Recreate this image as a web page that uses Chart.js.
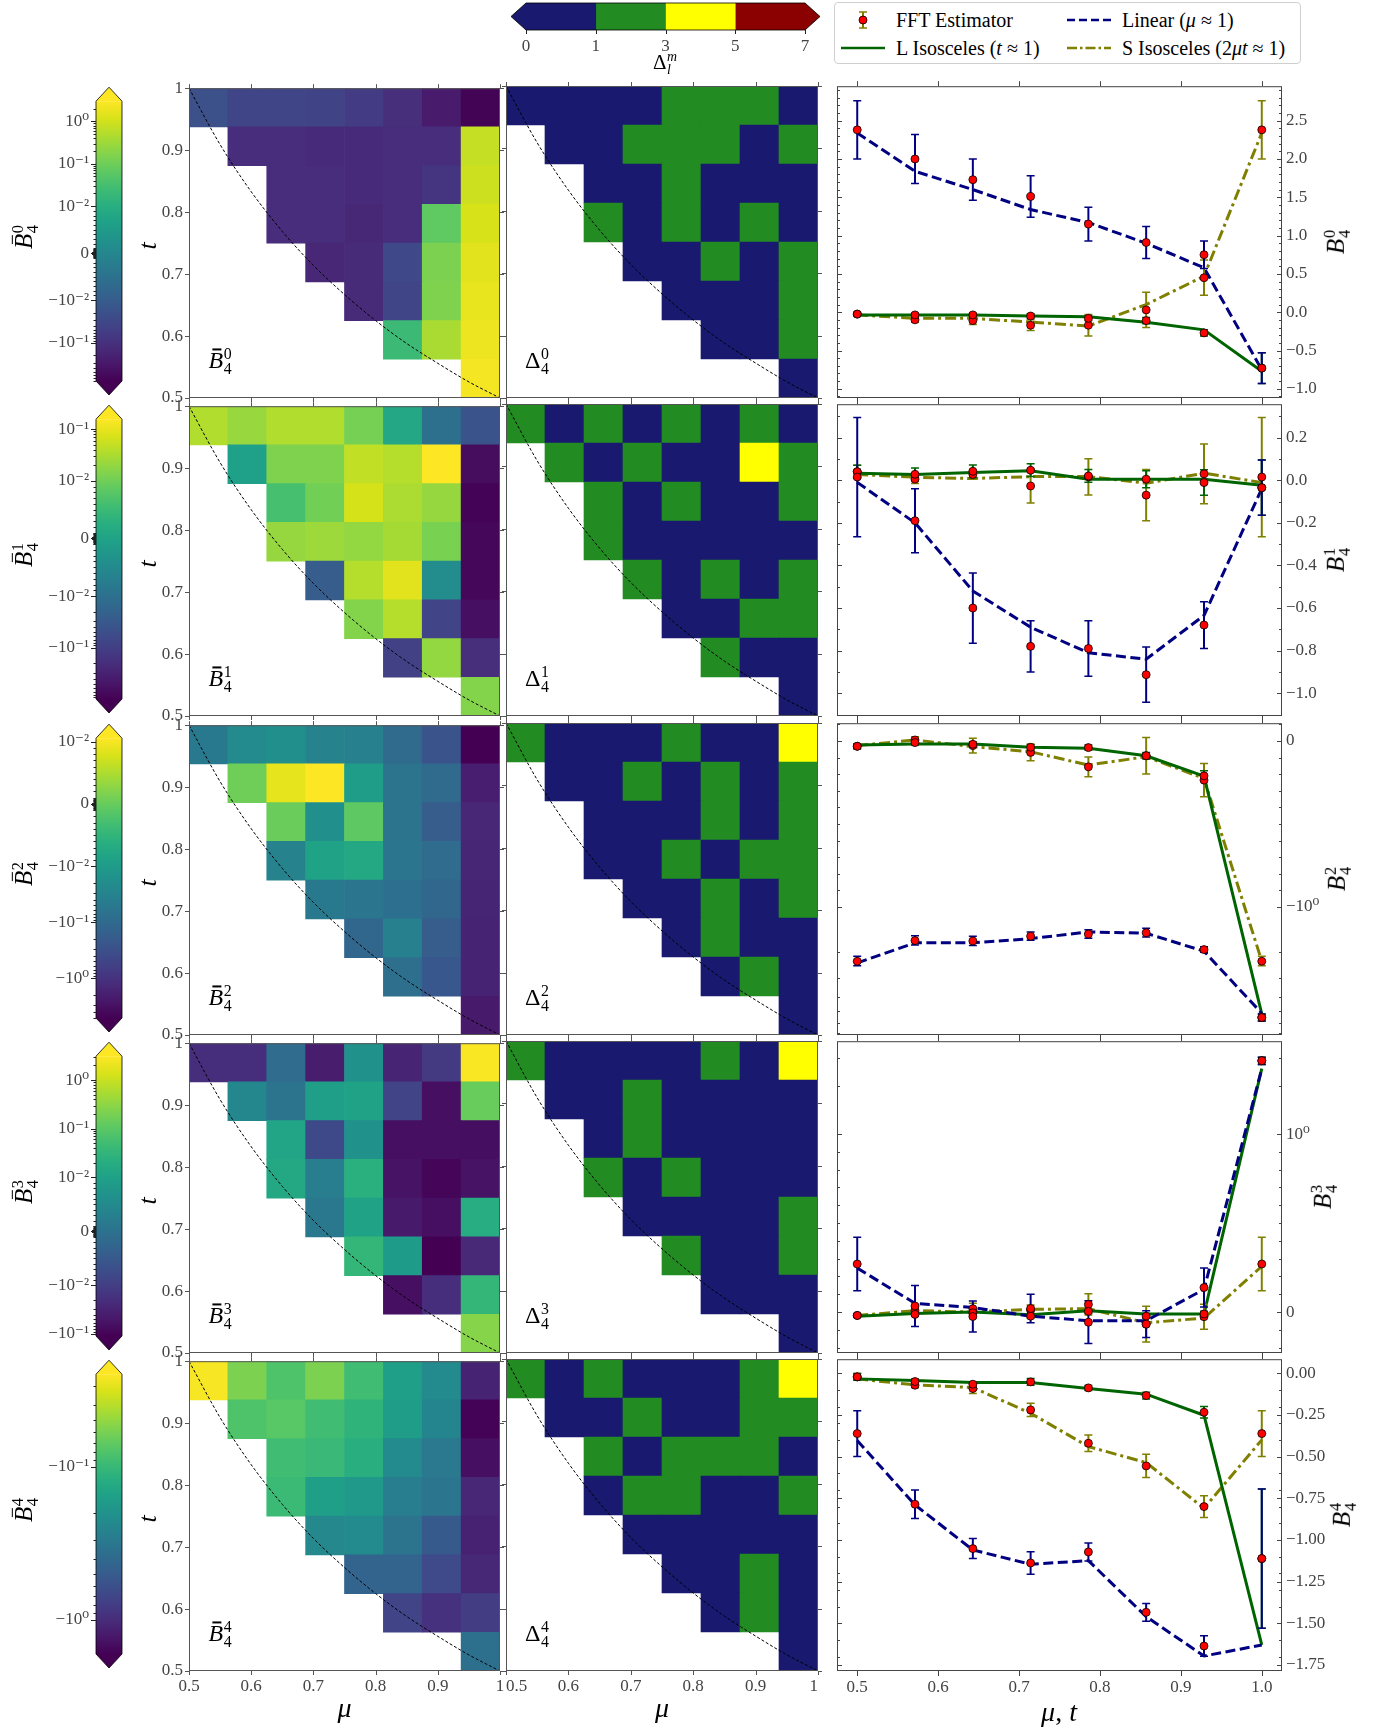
<!DOCTYPE html>
<html>
<head>
<meta charset="utf-8">
<script src="https://cdn.jsdelivr.net/npm/chart.js@4.4.1/dist/chart.umd.min.js"></script>
<style>
  html, body { margin: 0; padding: 0; background: #fff; }
  body { width: 1399px; height: 1733px; position: relative; overflow: hidden; font-family: 'Liberation Serif', 'DejaVu Serif', serif; }
  canvas { position: absolute; }
  .lab { position: absolute; color: #000; white-space: nowrap; line-height: 1; font-family: 'Liberation Serif', 'DejaVu Serif', serif; }
  .it { font-style: italic; }
  .bar { position: relative; display: inline-block; }
  .bar::after { content: ""; position: absolute; left: 30%; width: 60%; top: 0.03em; height: 1.5px; background: #000; }
  .scr { display: inline-flex; flex-direction: column; font-size: 0.66em; line-height: 0.92; vertical-align: 0.55em; margin-left: 0.04em; font-style: normal; }
  #legend { position: absolute; left: 834px; top: 2px; width: 467px; height: 62px; box-sizing: border-box; border: 1px solid #cfcfcf; border-radius: 4px; background: #fff; }
  .li { position: absolute; font-size: 20px; line-height: 1; white-space: nowrap; }
  .ls { position: absolute; }
</style>
</head>
<body>
<script>
// ==========================================
// ДАНІ
// ==========================================
const xPts = [0.5, 0.5714, 0.6429, 0.7143, 0.7857, 0.8571, 0.9286, 1.0];
const cellEdges = [0.5, 0.5625, 0.625, 0.6875, 0.75, 0.8125, 0.875, 0.9375, 1.0];
const boundaryMu = [0.5, 0.55, 0.6, 0.65, 0.7, 0.75, 0.8, 0.85, 0.9, 0.95, 1.0];
const boundaryT = [1.0, 0.909, 0.833, 0.769, 0.714, 0.667, 0.625, 0.588, 0.556, 0.526, 0.5];

const hmTicks = [0.5, 0.6, 0.7, 0.8, 0.9, 1.0];
const hmTickLabels = ["0.5", "0.6", "0.7", "0.8", "0.9", "1"];
const lineXLabels = ["0.5", "0.6", "0.7", "0.8", "0.9", "1.0"];

const deltaBounds = [0, 1, 3, 5, 7];
const deltaColors = ["#191970", "#228b22", "#ffff00", "#8b0000"];

// B̄_4^m, рядки від t≈1 (верх) до t≈0.5 (низ), стовпці μ 0.5 → 1
const B = [
  [
    [-0.02, -0.035, -0.035, -0.04, -0.06, -0.11, -0.27, -0.73],
    [null, -0.12, -0.12, -0.13, -0.13, -0.12, -0.12, 0.75],
    [null, null, -0.12, -0.12, -0.13, -0.12, -0.08, 0.91],
    [null, null, -0.12, -0.12, -0.15, -0.12, 0.068, 1.15],
    [null, null, null, -0.16, -0.14, -0.03, 0.14, 1.51],
    [null, null, null, null, -0.14, -0.035, 0.15, 1.73],
    [null, null, null, null, null, 0.023, 0.42, 2.0],
    [null, null, null, null, null, null, null, 2.38]
  ],
  [
    [0.035, 0.022, 0.035, 0.035, 0.011, 0.001, -0.01, -0.04],
    [null, -0.0006, 0.0135, 0.0135, 0.047, 0.037, 0.16, -0.68],
    [null, null, 0.0062, 0.0104, 0.068, 0.032, 0.021, -0.91],
    [null, null, 0.021, 0.024, 0.02, 0.028, 0.012, -0.79],
    [null, null, null, -0.026, 0.037, 0.087, -0.0045, -0.78],
    [null, null, null, null, 0.015, 0.037, -0.081, -0.6],
    [null, null, null, null, null, -0.091, 0.02, -0.19],
    [null, null, null, null, null, null, null, 0.015]
  ],
  [
    [-0.05, -0.023, -0.017, -0.032, -0.036, -0.1, -0.26, -5.5],
    [null, 0.0006, 0.0087, 0.0115, -0.0096, -0.065, -0.1, -1.93],
    [null, null, 0.0002, -0.017, -0.0007, -0.065, -0.18, -1.49],
    [null, null, -0.032, -0.0087, -0.0075, -0.058, -0.092, -1.52],
    [null, null, null, -0.05, -0.058, -0.079, -0.12, -1.57],
    [null, null, null, null, -0.12, -0.036, -0.18, -1.69],
    [null, null, null, null, null, -0.08, -0.23, -1.68],
    [null, null, null, null, null, null, null, -2.31]
  ],
  [
    [-0.02, -0.02, -0.0013, -0.039, 0.0065, -0.029, -0.012, 2.87],
    [null, 0.0044, 0.0003, 0.0096, 0.0103, -0.009, -0.066, 0.138],
    [null, null, 0.012, -0.008, 0.0065, -0.066, -0.066, -0.068],
    [null, null, 0.0155, 0.0023, 0.023, -0.058, -0.095, -0.057],
    [null, null, null, 0.0013, 0.0103, -0.045, -0.066, 0.02],
    [null, null, null, null, 0.034, 0.009, -0.11, -0.025],
    [null, null, null, null, null, -0.066, -0.02, 0.034],
    [null, null, null, null, null, null, null, 0.27]
  ],
  [
    [-0.026, -0.058, -0.081, -0.058, -0.092, -0.16, -0.23, -1.11],
    [null, -0.081, -0.075, -0.092, -0.11, -0.165, -0.25, -1.64],
    [null, null, -0.092, -0.1, -0.12, -0.23, -0.31, -1.43],
    [null, null, -0.097, -0.16, -0.18, -0.286, -0.33, -1.07],
    [null, null, null, -0.24, -0.23, -0.34, -0.52, -1.14],
    [null, null, null, null, -0.44, -0.44, -0.66, -1.05],
    [null, null, null, null, null, -0.72, -0.93, -0.79],
    [null, null, null, null, null, null, null, -0.36]
  ]
];

// Δ_4^m
const D = [
  [
    [0.5, 0.5, 0.5, 0.5, 2, 2, 2, 0.5],
    [null, 0.5, 0.5, 2, 2, 2, 0.5, 2],
    [null, null, 0.5, 0.5, 2, 0.5, 0.5, 0.5],
    [null, null, 2, 0.5, 2, 0.5, 2, 0.5],
    [null, null, null, 0.5, 0.5, 2, 0.5, 2],
    [null, null, null, null, 0.5, 0.5, 0.5, 2],
    [null, null, null, null, null, 0.5, 0.5, 2],
    [null, null, null, null, null, null, null, 0.5]
  ],
  [
    [2, 0.5, 2, 0.5, 2, 0.5, 2, 0.5],
    [null, 2, 0.5, 2, 0.5, 0.5, 4, 2],
    [null, null, 2, 0.5, 2, 0.5, 0.5, 2],
    [null, null, 2, 0.5, 0.5, 0.5, 0.5, 0.5],
    [null, null, null, 2, 0.5, 2, 0.5, 2],
    [null, null, null, null, 0.5, 0.5, 2, 2],
    [null, null, null, null, null, 2, 0.5, 0.5],
    [null, null, null, null, null, null, null, 0.5]
  ],
  [
    [2, 0.5, 0.5, 0.5, 2, 0.5, 0.5, 4],
    [null, 0.5, 0.5, 2, 0.5, 2, 0.5, 2],
    [null, null, 0.5, 0.5, 0.5, 2, 0.5, 2],
    [null, null, 0.5, 0.5, 2, 0.5, 2, 2],
    [null, null, null, 0.5, 0.5, 2, 0.5, 2],
    [null, null, null, null, 0.5, 2, 0.5, 0.5],
    [null, null, null, null, null, 0.5, 2, 0.5],
    [null, null, null, null, null, null, null, 0.5]
  ],
  [
    [2, 0.5, 0.5, 0.5, 0.5, 2, 0.5, 4],
    [null, 0.5, 0.5, 2, 0.5, 0.5, 0.5, 0.5],
    [null, null, 0.5, 2, 0.5, 0.5, 0.5, 0.5],
    [null, null, 2, 0.5, 2, 0.5, 0.5, 0.5],
    [null, null, null, 0.5, 0.5, 0.5, 0.5, 2],
    [null, null, null, null, 2, 0.5, 0.5, 2],
    [null, null, null, null, null, 0.5, 0.5, 0.5],
    [null, null, null, null, null, null, null, 0.5]
  ],
  [
    [2, 0.5, 2, 0.5, 0.5, 0.5, 2, 4],
    [null, 0.5, 0.5, 2, 0.5, 0.5, 2, 2],
    [null, null, 2, 0.5, 2, 2, 2, 0.5],
    [null, null, 0.5, 2, 2, 0.5, 0.5, 2],
    [null, null, null, 0.5, 0.5, 0.5, 0.5, 0.5],
    [null, null, null, null, 0.5, 0.5, 2, 0.5],
    [null, null, null, null, null, 0.5, 2, 0.5],
    [null, null, null, null, null, null, null, 0.5]
  ]
];

// шкали кольорів B̄ (symlog, linthresh 0.01)
const cbMin = [-0.81, -0.97, -5.1, -0.11, -1.67];
const cbMax = [3.0, 0.155, 0.0115, 3.1, -0.025];
const cbTicks = [
  [-0.1, -0.01, 0, 0.01, 0.1, 1],
  [-0.1, -0.01, 0, 0.01, 0.1],
  [-1, -0.1, -0.01, 0, 0.01],
  [-0.1, -0.01, 0, 0.01, 0.1, 1],
  [-1, -0.1]
];
const cbTickLabels = [
  ["−10⁻¹", "−10⁻²", "0", "10⁻²", "10⁻¹", "10⁰"],
  ["−10⁻¹", "−10⁻²", "0", "10⁻²", "10⁻¹"],
  ["−10⁰", "−10⁻¹", "−10⁻²", "0", "10⁻²"],
  ["−10⁻¹", "−10⁻²", "0", "10⁻²", "10⁻¹", "10⁰"],
  ["−10⁰", "−10⁻¹"]
];

// лінійні графіки B_4^m
const linModel = [
  [2.34, 1.84, 1.60, 1.34, 1.17, 0.90, 0.58, -0.75],
  [-0.01, -0.2, -0.52, -0.69, -0.81, -0.84, -0.635, -0.04],
  [-2.37, -1.74, -1.74, -1.63, -1.47, -1.5, -1.98, -5.15],
  [0.247, 0.049, 0.026, -0.023, -0.049, -0.049, 0.128, 2.56],
  [-0.404, -0.79, -1.06, -1.146, -1.124, -1.46, -1.696, -1.63]
];
const lModel = [
  [-0.035, -0.035, -0.035, -0.05, -0.06, -0.13, -0.23, -0.77],
  [0.033, 0.027, 0.036, 0.045, 0.005, 0.005, 0.005, -0.024],
  [-0.024, -0.018, -0.018, -0.038, -0.044, -0.089, -0.212, -5.2],
  [-0.023, -0.008, 0.0, -0.015, 0.008, -0.011, -0.011, 2.56],
  [-0.034, -0.044, -0.056, -0.056, -0.092, -0.126, -0.252, -1.63]
];
const sModel = [
  [-0.035, -0.08, -0.08, -0.13, -0.18, 0.10, 0.47, 2.34],
  [0.027, 0.014, 0.008, 0.017, 0.017, -0.014, 0.033, -0.011],
  [-0.028, 0.006, -0.034, -0.065, -0.145, -0.095, -0.226, -2.31],
  [-0.019, 0.008, 0.0, 0.015, 0.019, -0.06, -0.034, 0.257],
  [-0.034, -0.07, -0.086, -0.24, -0.44, -0.536, -0.81, -0.40]
];
const linFFT = [
  [2.38, 2.0, 1.73, 1.51, 1.15, 0.91, 0.75, -0.73],
  [0.015, -0.19, -0.60, -0.78, -0.79, -0.913, -0.68, -0.035],
  [-2.31, -1.68, -1.69, -1.57, -1.52, -1.49, -1.93, -5.5],
  [0.27, 0.034, -0.025, 0.02, -0.057, -0.068, 0.138, 2.87],
  [-0.362, -0.786, -1.052, -1.138, -1.072, -1.434, -1.636, -1.112]
];
const linErr = [
  [0.38, 0.32, 0.27, 0.27, 0.22, 0.21, 0.18, 0.2],
  [0.28, 0.15, 0.165, 0.12, 0.13, 0.13, 0.11, 0.13],
  [0.17, 0.12, 0.12, 0.1, 0.1, 0.1, 0.08, 0.3],
  [0.15, 0.115, 0.087, 0.08, 0.12, 0.075, 0.11, 0.15],
  [0.137, 0.086, 0.06, 0.067, 0.054, 0.053, 0.062, 0.418]
];
const lFFT = [
  [-0.025, -0.035, -0.035, -0.05, -0.08, -0.11, -0.27, -0.73],
  [0.04, 0.028, 0.042, 0.047, 0.02, 0.005, -0.011, -0.035],
  [-0.032, -0.01, -0.02, -0.038, -0.04, -0.089, -0.21, -5.5],
  [-0.019, -0.013, -0.004, -0.023, 0.004, -0.023, -0.011, 2.87],
  [-0.022, -0.05, -0.066, -0.052, -0.088, -0.134, -0.234, -1.112]
];
const lErr = [
  [0.02, 0.02, 0.02, 0.03, 0.03, 0.04, 0.04, 0.2],
  [0.03, 0.03, 0.03, 0.03, 0.03, 0.04, 0.06, 0.13],
  [0.015, 0.015, 0.015, 0.015, 0.015, 0.02, 0.03, 0.3],
  [0.01, 0.01, 0.01, 0.01, 0.01, 0.01, 0.015, 0.15],
  [0.02, 0.015, 0.015, 0.02, 0.015, 0.02, 0.035, 0.418]
];
const sFFT = [
  [-0.025, -0.10, -0.11, -0.17, -0.17, 0.03, 0.45, 2.38],
  [0.04, 0.005, 0.027, -0.027, 0.016, -0.07, 0.03, 0.015],
  [-0.032, 0.006, -0.028, -0.069, -0.156, -0.089, -0.236, -2.31],
  [-0.019, 0.008, 0.019, 0.01, 0.043, -0.068, -0.026, 0.27],
  [-0.022, -0.072, -0.092, -0.22, -0.42, -0.556, -0.80, -0.362]
];
const sErr = [
  [0.02, 0.03, 0.05, 0.07, 0.14, 0.23, 0.23, 0.38],
  [0.03, 0.02, 0.02, 0.08, 0.085, 0.12, 0.14, 0.28],
  [0.015, 0.02, 0.045, 0.05, 0.06, 0.11, 0.1, 0.17],
  [0.01, 0.02, 0.03, 0.03, 0.06, 0.1, 0.07, 0.15],
  [0.02, 0.015, 0.03, 0.04, 0.05, 0.07, 0.065, 0.137]
];

const lineYMin = [-1.12, -1.107, -7.2, -0.23, -1.786];
const lineYMax = [2.95, 0.357, 0.107, 3.8, 0.084];
const lineScale = ["linear", "linear", "symlog", "symlog", "linear"];
const lineTicks = [
  [-1, -0.5, 0, 0.5, 1, 1.5, 2, 2.5],
  [-1, -0.8, -0.6, -0.4, -0.2, 0, 0.2],
  [-1, 0],
  [0, 1],
  [-1.75, -1.5, -1.25, -1, -0.75, -0.5, -0.25, 0]
];
const lineTickLabels = [
  ["−1.0", "−0.5", "0.0", "0.5", "1.0", "1.5", "2.0", "2.5"],
  ["−1.0", "−0.8", "−0.6", "−0.4", "−0.2", "0.0", "0.2"],
  ["−10⁰", "0"],
  ["0", "10⁰"],
  ["−1.75", "−1.50", "−1.25", "−1.00", "−0.75", "−0.50", "−0.25", "0.00"]
];

// ==========================================
// КОЛЬОРИ ТА ПЕРЕТВОРЕННЯ
// ==========================================
const NAVY = "#000080", GREEN = "#006400", OLIVE = "#808000";
const VIRIDIS = ["#440154", "#48186a", "#472d7b", "#424086", "#3b528b", "#33638d", "#2c728e", "#26828e",
  "#21918c", "#1fa088", "#28ae80", "#3fbc73", "#5ec962", "#84d44b", "#addc30", "#d8e219", "#fde725"];

function hexRgb(h) {
  return [parseInt(h.slice(1, 3), 16), parseInt(h.slice(3, 5), 16), parseInt(h.slice(5, 7), 16)];
}
function viridis(p) {
  p = Math.min(1, Math.max(0, p));
  const f = p * 16, i = Math.min(15, Math.floor(f)), k = f - i;
  const a = hexRgb(VIRIDIS[i]), b = hexRgb(VIRIDIS[i + 1]);
  return "rgb(" + a.map((c, n) => Math.round(c + (b[n] - c) * k)).join(",") + ")";
}

const LSC = 1 / (1 - 0.1);
function symT(v, lt) {
  const a = Math.abs(v);
  return a <= lt ? v / lt * LSC : Math.sign(v) * (LSC + Math.log10(a / lt));
}
function symTinv(u, lt) {
  const a = Math.abs(u);
  return a <= LSC ? u / LSC * lt : Math.sign(u) * lt * Math.pow(10, a - LSC);
}
function bColor(v, r) {
  const a = symT(cbMin[r], 0.01), b = symT(cbMax[r], 0.01);
  return viridis((symT(v, 0.01) - a) / (b - a));
}
function dColor(v) {
  for (let i = 1; i < deltaBounds.length; i++) if (v < deltaBounds[i]) return deltaColors[i - 1];
  return deltaColors[deltaColors.length - 1];
}

// symlog вісь для Chart.js
class SymLogScale extends Chart.Scale {
  determineDataLimits() {
    this.min = this.options.min;
    this.max = this.options.max;
  }
  buildTicks() { return []; }
  configure() {
    super.configure();
    const lt = this.options.linthresh;
    this._a = symT(this.min, lt);
    this._b = symT(this.max, lt);
  }
  getPixelForValue(v) {
    return this.getPixelForDecimal((symT(v, this.options.linthresh) - this._a) / (this._b - this._a));
  }
  getValueForPixel(px) {
    return symTinv(this._a + this.getDecimalForPixel(px) * (this._b - this._a), this.options.linthresh);
  }
  getLabelForValue(v) { return String(v); }
}
SymLogScale.id = "symlog";
SymLogScale.defaults = {};
Chart.register(SymLogScale);

Chart.defaults.font.family = "'Liberation Serif', 'DejaVu Serif', serif";
Chart.defaults.font.size = 17;
Chart.defaults.color = "#444";

// ==========================================
// ДОПОМІЖНІ
// ==========================================
function canvasAt(x, y, w, h) {
  const c = document.createElement("canvas");
  c.width = w; c.height = h;
  c.style.left = x + "px"; c.style.top = y + "px";
  c.style.width = w + "px"; c.style.height = h + "px";
  document.body.appendChild(c);
  return c.getContext("2d");
}

function baseOpts(pad) {
  return {
    responsive: false, animation: false, events: [], devicePixelRatio: 1,
    layout: { autoPadding: false, padding: pad },
    plugins: { legend: { display: false }, tooltip: { enabled: false } }
  };
}
function axis(extra) {
  return Object.assign({ grid: { display: false, drawTicks: false }, border: { display: false }, bounds: "data" }, extra);
}
const fixedTicks = values => ax => { ax.ticks = values.map(value => ({ value })); };

function minorLinear(min, max, step, majors) {
  const out = [];
  for (let k = Math.ceil(min / step); k * step <= max; k++) {
    const v = +(k * step).toFixed(6);
    if (!majors.some(m => Math.abs(m - v) < 1e-9)) out.push(v);
  }
  return out;
}
function minorSym(min, max, lt, from) {
  const out = [];
  for (let d = lt * from; d < 100; d *= 10) {
    for (let k = 1; k <= 9; k++) {
      if (k === 1 && d >= lt * 0.999) continue;
      [k * d, -k * d].forEach(v => { if (v > min && v < max) out.push(v); });
    }
  }
  return out;
}

function cellsFrom(grid) {
  const out = [];
  grid.forEach((row, i) => {
    const lo = cellEdges[7 - i], hi = cellEdges[8 - i];
    row.forEach((v, j) => {
      if (v === null) return;
      out.push({ x: (cellEdges[j] + cellEdges[j + 1]) / 2, y: [lo, hi], v });
    });
  });
  return out;
}

// рамка та риски
function framePlugin(cfg) {
  return {
    id: "frame",
    afterDraw(chart) {
      const { ctx, chartArea: a } = chart;
      ctx.save();
      ctx.strokeStyle = cfg.color;
      if (cfg.box) {
        ctx.lineWidth = 1;
        ctx.strokeRect(a.left + 0.5, a.top + 0.5, a.right - a.left - 1, a.bottom - a.top - 1);
      }
      (cfg.marks || []).forEach(m => {
        const sc = chart.scales[m.axis];
        ctx.lineWidth = m.width || 1;
        ctx.beginPath();
        m.values.forEach(v => {
          const p = Math.round(sc.getPixelForValue(v)) + 0.5;
          const s = m.dir === "in" ? 1 : -1;
          if (m.side === "left") { ctx.moveTo(a.left, p); ctx.lineTo(a.left + s * m.len, p); }
          if (m.side === "right") { ctx.moveTo(a.right, p); ctx.lineTo(a.right - s * m.len, p); }
          if (m.side === "top") { ctx.moveTo(p, a.top); ctx.lineTo(p, a.top + s * m.len); }
          if (m.side === "bottom") { ctx.moveTo(p, a.bottom); ctx.lineTo(p, a.bottom - s * m.len); }
        });
        ctx.stroke();
      });
      ctx.restore();
    }
  };
}

// похибки FFT
function errorBarsPlugin(sets) {
  return {
    id: "errbars",
    afterDatasetDraw(chart, args) {
      if (args.index !== 0) return;
      const { ctx, chartArea: a, scales: { x, y } } = chart;
      ctx.save();
      ctx.beginPath(); ctx.rect(a.left, a.top, a.right - a.left, a.bottom - a.top); ctx.clip();
      sets.forEach(s => {
        ctx.strokeStyle = s.color;
        s.vals.forEach((v, i) => {
          const px = x.getPixelForValue(xPts[i]);
          const y1 = y.getPixelForValue(v + s.err[i]), y2 = y.getPixelForValue(v - s.err[i]);
          ctx.lineWidth = 2;
          ctx.beginPath(); ctx.moveTo(px, y1); ctx.lineTo(px, y2); ctx.stroke();
          ctx.lineWidth = 1.5;
          ctx.beginPath();
          ctx.moveTo(px - 4, y1); ctx.lineTo(px + 4, y1);
          ctx.moveTo(px - 4, y2); ctx.lineTo(px + 4, y2);
          ctx.stroke();
        });
      });
      ctx.restore();
    }
  };
}

// градієнт viridis з трикутниками
const viridisBarPlugin = {
  id: "vbar",
  beforeDraw(chart) {
    const { ctx, chartArea: a } = chart;
    const g = ctx.createLinearGradient(0, a.bottom, 0, a.top);
    VIRIDIS.forEach((c, i) => g.addColorStop(i / 16, c));
    const mid = (a.left + a.right) / 2, h = 14;
    ctx.save();
    ctx.fillStyle = g;
    ctx.fillRect(a.left, a.top, a.right - a.left, a.bottom - a.top);
    ctx.fillStyle = VIRIDIS[16];
    ctx.beginPath(); ctx.moveTo(a.left, a.top); ctx.lineTo(mid, a.top - h); ctx.lineTo(a.right, a.top); ctx.closePath(); ctx.fill();
    ctx.fillStyle = VIRIDIS[0];
    ctx.beginPath(); ctx.moveTo(a.left, a.bottom); ctx.lineTo(mid, a.bottom + h); ctx.lineTo(a.right, a.bottom); ctx.closePath(); ctx.fill();
    ctx.strokeStyle = "#000"; ctx.lineWidth = 0.8;
    ctx.beginPath();
    ctx.moveTo(a.left, a.top); ctx.lineTo(mid, a.top - h); ctx.lineTo(a.right, a.top);
    ctx.lineTo(a.right, a.bottom); ctx.lineTo(mid, a.bottom + h); ctx.lineTo(a.left, a.bottom);
    ctx.closePath(); ctx.stroke();
    ctx.restore();
  }
};

const deltaEndsPlugin = {
  id: "dends",
  afterDatasetsDraw(chart) {
    const { ctx, chartArea: a } = chart;
    const mid = (a.top + a.bottom) / 2, w = 15;
    ctx.save();
    ctx.fillStyle = deltaColors[0];
    ctx.beginPath(); ctx.moveTo(a.left, a.top); ctx.lineTo(a.left - w, mid); ctx.lineTo(a.left, a.bottom); ctx.closePath(); ctx.fill();
    ctx.fillStyle = deltaColors[deltaColors.length - 1];
    ctx.beginPath(); ctx.moveTo(a.right, a.top); ctx.lineTo(a.right + w, mid); ctx.lineTo(a.right, a.bottom); ctx.closePath(); ctx.fill();
    ctx.strokeStyle = "#000"; ctx.lineWidth = 0.8;
    ctx.beginPath();
    ctx.moveTo(a.left, a.top); ctx.lineTo(a.right, a.top); ctx.lineTo(a.right + w, mid); ctx.lineTo(a.right, a.bottom);
    ctx.lineTo(a.left, a.bottom); ctx.lineTo(a.left - w, mid); ctx.closePath(); ctx.stroke();
    ctx.restore();
  }
};

function label(html, x, y, size, rot, cls) {
  const d = document.createElement("div");
  d.className = "lab" + (cls ? " " + cls : "");
  d.innerHTML = html;
  d.style.left = x + "px"; d.style.top = y + "px";
  d.style.fontSize = size + "px";
  d.style.transform = "translate(-50%,-50%)" + (rot ? " rotate(-90deg)" : "");
  document.body.appendChild(d);
}
function mathHTML(base, sup, sub, cls) {
  return `<span class="${cls}">${base}</span><span class="scr"><span>${sup}</span><span>${sub}</span></span>`;
}

// ==========================================
// ГЕОМЕТРІЯ
// ==========================================
const ROW_TOP = [86, 404, 723, 1041, 1359];
const ROW_H = 312;

// ==========================================
// ШКАЛА КОЛЬОРІВ B̄
// ==========================================
function drawColorbar(r, T) {
  const cx = 36, cy = T - 2, cw = 92, ch = 316, axW = 60;
  const box = { l: 96, r: 122, t: T + 14, b: T + 295 };
  const pad = { left: box.l - cx - axW, top: box.t - cy, right: cx + cw - box.r, bottom: cy + ch - box.b };
  const marks = [
    { axis: "y", side: "left", values: cbTicks[r], len: 5, dir: "out" },
    { axis: "y", side: "left", values: minorSym(cbMin[r], cbMax[r], 0.01, 0.01), len: 2.5, dir: "out" }
  ];
  if (cbTicks[r].includes(0)) marks.push({ axis: "y", side: "left", values: [0], len: 4, dir: "out", width: 3 });
  new Chart(canvasAt(cx, cy, cw, ch), {
    type: "scatter",
    data: { datasets: [] },
    options: Object.assign(baseOpts(pad), {
      scales: {
        x: axis({ type: "linear", min: 0, max: 1, display: false }),
        y: axis({
          type: "symlog", linthresh: 0.01, min: cbMin[r], max: cbMax[r], position: "left",
          ticks: { padding: 7, autoSkip: false, callback: (v, i) => cbTickLabels[r][i] },
          afterBuildTicks: fixedTicks(cbTicks[r]), afterFit: ax => { ax.width = axW; }
        })
      }
    }),
    plugins: [viridisBarPlugin, framePlugin({ box: false, color: "#222", marks })]
  });
}

// ==========================================
// ТЕПЛОВІ КАРТИ B̄ та Δ
// ==========================================
function drawHeat(r, T, isB) {
  const last = r === 4;
  const box = isB ? { l: 189, r: 500 } : { l: 506, r: 818 };
  const cx = isB ? 145 : 490, cw = isB ? 367 : 342;
  const cy = T - 14, ch = 14 + ROW_H + 36;
  const axY = isB ? 44 : 0, axX = last ? 30 : 0;
  const pad = { left: box.l - cx - axY, top: 14, right: cx + cw - box.r, bottom: ch - 14 - ROW_H - axX };
  const grid = isB ? B[r] : D[r];
  new Chart(canvasAt(cx, cy, cw, ch), {
    type: "bar",
    data: {
      datasets: [
        {
          type: "line", data: boundaryMu.map((x, i) => ({ x, y: boundaryT[i] })),
          borderColor: "#000", borderWidth: 1, borderDash: [3, 2], pointRadius: 0,
          cubicInterpolationMode: "monotone", order: 0
        },
        {
          type: "bar", data: cellsFrom(grid),
          backgroundColor: c => c.raw ? (isB ? bColor(c.raw.v, r) : dColor(c.raw.v)) : "rgba(0,0,0,0)",
          borderWidth: 0, barPercentage: 1, categoryPercentage: 1, order: 1
        }
      ]
    },
    options: Object.assign(baseOpts(pad), {
      scales: {
        x: axis({
          type: "linear", min: 0.5, max: 1.0, offset: false, display: last, position: "bottom",
          ticks: { padding: 5, autoSkip: false, maxRotation: 0, align: isB ? "center" : "inner", callback: (v, i) => hmTickLabels[i] },
          afterBuildTicks: fixedTicks(hmTicks), afterFit: ax => { if (last) ax.height = axX; }
        }),
        y: axis({
          type: "linear", min: 0.5, max: 1.0, beginAtZero: false, display: isB, position: "left",
          ticks: { padding: 6, autoSkip: false, callback: (v, i) => hmTickLabels[i] },
          afterBuildTicks: fixedTicks(hmTicks), afterFit: ax => { if (isB) ax.width = axY; }
        })
      }
    }),
    plugins: [framePlugin({
      box: true, color: "#555", marks: [
        { axis: "x", side: "top", values: hmTicks, len: 4, dir: "out" },
        { axis: "x", side: "bottom", values: hmTicks, len: 4, dir: "out" },
        { axis: "y", side: "left", values: hmTicks, len: 4, dir: "out" },
        { axis: "y", side: "right", values: hmTicks, len: 4, dir: "out" }
      ]
    })]
  });
}

// ==========================================
// ЛІНІЙНІ ГРАФІКИ B_4^m
// ==========================================
function drawLines(r, T) {
  const last = r === 4;
  const box = { l: 837, r: 1282 };
  const cx = 825, cw = 515, cy = T - 14, ch = 14 + ROW_H + 38;
  const axR = 52, axX = last ? 34 : 0;
  const pad = { left: box.l - cx, top: 14, right: cw - (box.r - cx) - axR, bottom: ch - 14 - ROW_H - axX };
  const pts = arr => xPts.map((x, i) => ({ x, y: arr[i] }));
  const line = (arr, color, dash, order) => ({
    type: "line", data: pts(arr), borderColor: color, borderWidth: 3, borderDash: dash,
    pointRadius: 0, fill: false, tension: 0, order
  });
  const dots = (arr, order) => ({
    type: "line", data: pts(arr), showLine: false, pointRadius: 4,
    pointBackgroundColor: "#ff0000", pointBorderColor: "#000", pointBorderWidth: 0.8, order
  });
  const minors = lineScale[r] === "symlog"
    ? minorSym(lineYMin[r], lineYMax[r], 1, 0.1)
    : minorLinear(lineYMin[r], lineYMax[r], 0.1, lineTicks[r]);

  new Chart(canvasAt(cx, cy, cw, ch), {
    type: "line",
    data: {
      datasets: [
        line(linModel[r], NAVY, [10, 4.5], 10),
        line(lModel[r], GREEN, [], 11),
        line(sModel[r], OLIVE, [11, 4, 3, 4], 12),
        dots(sFFT[r], 3),
        dots(lFFT[r], 2),
        dots(linFFT[r], 1)
      ]
    },
    options: Object.assign(baseOpts(pad), {
      scales: {
        x: axis({
          type: "linear", min: 0.475, max: 1.025, display: last, position: "bottom",
          ticks: { padding: 6, autoSkip: false, maxRotation: 0, callback: (v, i) => lineXLabels[i] },
          afterBuildTicks: fixedTicks(hmTicks), afterFit: ax => { if (last) ax.height = axX; }
        }),
        y: axis({
          type: lineScale[r], linthresh: 1, min: lineYMin[r], max: lineYMax[r], beginAtZero: false, position: "right",
          ticks: { padding: 4, autoSkip: false, callback: (v, i) => lineTickLabels[r][i] },
          afterBuildTicks: fixedTicks(lineTicks[r]), afterFit: ax => { ax.width = axR; }
        })
      }
    }),
    plugins: [
      errorBarsPlugin([
        { vals: sFFT[r], err: sErr[r], color: OLIVE },
        { vals: lFFT[r], err: lErr[r], color: GREEN },
        { vals: linFFT[r], err: linErr[r], color: NAVY }
      ]),
      framePlugin({
        box: true, color: "#444", marks: [
          { axis: "y", side: "left", values: lineTicks[r], len: 5, dir: "in" },
          { axis: "y", side: "left", values: minors, len: 3, dir: "in" },
          { axis: "y", side: "right", values: lineTicks[r], len: 5, dir: "in" },
          { axis: "y", side: "right", values: minors, len: 3, dir: "in" },
          { axis: "x", side: "top", values: hmTicks, len: 5, dir: "out" },
          { axis: "x", side: "bottom", values: hmTicks, len: 5, dir: "out" }
        ]
      })
    ]
  });
}

// ==========================================
// ШКАЛА Δ (зверху)
// ==========================================
function drawDeltaBar() {
  const cx = 500, cy = 0, cw = 330, ch = 58, axH = 22;
  const box = { l: 526, r: 805, t: 3, b: 30 };
  const pad = { left: box.l - cx, top: box.t - cy, right: cw - (box.r - cx), bottom: ch - box.b - axH };
  new Chart(canvasAt(cx, cy, cw, ch), {
    type: "bar",
    data: {
      labels: [""],
      datasets: deltaColors.map((c, i) => ({
        data: [[i, i + 1]], backgroundColor: c, borderWidth: 0,
        barPercentage: 1, categoryPercentage: 1, grouped: false
      }))
    },
    options: Object.assign(baseOpts(pad), {
      indexAxis: "y",
      scales: {
        x: axis({
          type: "linear", min: 0, max: deltaBounds.length - 1, position: "bottom", beginAtZero: false,
          ticks: { padding: 6, autoSkip: false, maxRotation: 0, callback: (v, i) => String(deltaBounds[i]) },
          afterBuildTicks: fixedTicks(deltaBounds.map((b, i) => i)), afterFit: ax => { ax.height = axH; }
        }),
        y: axis({ display: false })
      }
    }),
    plugins: [deltaEndsPlugin, framePlugin({
      box: false, color: "#222",
      marks: [{ axis: "x", side: "bottom", values: deltaBounds.map((b, i) => i), len: 4, dir: "out" }]
    })]
  });
}

// ==========================================
// ПОБУДОВА
// ==========================================
const xRight = [1337, 1337, 1338, 1324, 1343];

drawDeltaBar();
label(mathHTML("Δ", "<i>m</i>", "<i>l</i>", ""), 665, 64, 21);

[0, 1, 2, 3, 4].forEach(r => {
  const T = ROW_TOP[r];
  drawColorbar(r, T);
  drawHeat(r, T, true);
  drawHeat(r, T, false);
  drawLines(r, T);

  label(mathHTML("B", String(r), "4", "it bar"), 25, T + 151, 25, true);
  label("t", 148, T + 160, 26, true, "it");
  label(mathHTML("B", String(r), "4", "it bar"), 220, T + 276, 24);
  label(mathHTML("Δ", String(r), "4", ""), 537, T + 276, 24);
  label(mathHTML("B", String(r), "4", "it"), xRight[r], T + 156, 25, true);
});

label("μ", 344.5, 1708, 28, false, "it");
label("μ", 662, 1708, 28, false, "it");
label("<i>μ</i>, <i>t</i>", 1059, 1712, 28);

// ==========================================
// ЛЕГЕНДА
// ==========================================
const legendItems = [
  { html: "FFT Estimator", kind: "fft", x: 6, y: 17 },
  { html: "L Isosceles (<i>t</i> ≈ 1)", kind: "L", x: 6, y: 45 },
  { html: "Linear (<i>μ</i> ≈ 1)", kind: "lin", x: 232, y: 17 },
  { html: "S Isosceles (2<i>μt</i> ≈ 1)", kind: "S", x: 232, y: 45 }
];
const leg = document.createElement("div");
leg.id = "legend";
document.body.appendChild(leg);
legendItems.forEach(it => {
  let svg = "";
  if (it.kind === "fft") {
    svg = `<line x1="22" y1="2" x2="22" y2="18" stroke="${OLIVE}" stroke-width="2"/>` +
      `<line x1="18" y1="2" x2="26" y2="2" stroke="${OLIVE}" stroke-width="1.5"/>` +
      `<line x1="18" y1="18" x2="26" y2="18" stroke="${OLIVE}" stroke-width="1.5"/>` +
      `<circle cx="22" cy="10" r="4" fill="#ff0000" stroke="#000" stroke-width="0.8"/>`;
  } else {
    const col = it.kind === "L" ? GREEN : it.kind === "lin" ? NAVY : OLIVE;
    const dash = it.kind === "L" ? "" : it.kind === "lin" ? "8,4" : "10,3,2.5,3";
    svg = `<line x1="0" y1="10" x2="44" y2="10" stroke="${col}" stroke-width="2.5" stroke-dasharray="${dash}"/>`;
  }
  const s = document.createElementNS("http://www.w3.org/2000/svg", "svg");
  s.setAttribute("width", "44"); s.setAttribute("height", "20");
  s.setAttribute("class", "ls");
  s.style.left = it.x + "px"; s.style.top = (it.y - 10) + "px";
  s.innerHTML = svg;
  leg.appendChild(s);
  const t = document.createElement("div");
  t.className = "li";
  t.innerHTML = it.html;
  t.style.left = (it.x + 55) + "px"; t.style.top = (it.y - 10) + "px";
  leg.appendChild(t);
});
</script>
</body>
</html>
